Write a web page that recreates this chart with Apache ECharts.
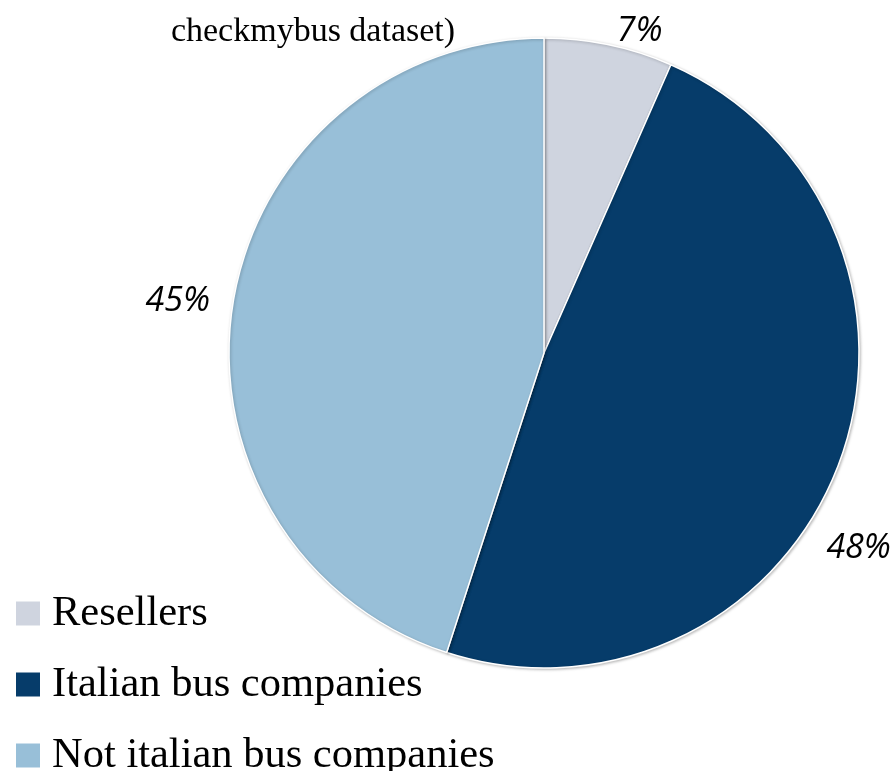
<!DOCTYPE html>
<html><head><meta charset="utf-8">
<script src="https://cdn.jsdelivr.net/npm/echarts@6/dist/echarts.min.js"></script>
<style>html,body{margin:0;padding:0;background:#fff}#c{width:893px;height:771px}</style>
</head><body><div id="c"></div>
<script>
const categories = ['Resellers', 'Italian bus companies', 'Not italian bus companies'];
const shares = [6.6, 48.4, 45.0];
const colors = ['#CFD4DF', '#063C6A', '#98BFD8'];
const titleText = 'checkmybus dataset)';

const chart = echarts.init(document.getElementById('c'));
chart.setOption({
  animation: false,
  title: {
    text: titleText, left: 313, top: 15, textAlign: 'center', padding: 0,
    textStyle: { fontFamily: 'Liberation Serif', fontWeight: 'normal', fontSize: 34, color: '#000' }
  },
  legend: {
    orient: 'vertical', left: 14, top: 592, padding: 0, height: 200,
    itemWidth: 26, itemHeight: 26, itemGap: 28, icon: 'rect',
    data: categories,
    textStyle: { fontFamily: 'Liberation Serif', fontSize: 42.5, color: '#000', lineHeight: 42, padding: [0, 0, 0, 6] }
  },
  series: [{
    type: 'pie', center: [544, 353], radius: 315,
    startAngle: 90, clockwise: true,
    itemStyle: { borderColor: '#fff', borderWidth: 1.5, shadowColor: 'rgba(0,0,0,0.25)', shadowBlur: 3, shadowOffsetX: 1, shadowOffsetY: 1 },
    label: {
      show: true, position: 'outside', overflow: 'none',
      formatter: p => Math.round(p.value) + '%',
      fontFamily: 'Open Sans', fontStyle: 'italic', fontSize: 34, color: '#000'
    },
    labelLine: { show: false, length: 14, length2: 0 },
    labelLayout: p => p.dataIndex === 1 ? { dx: -30, dy: 78 } : (p.dataIndex === 2 ? { dx: -4 } : {}),
    data: categories.map((n, i) => ({ name: n, value: shares[i], itemStyle: { color: colors[i] } }))
  }]
});
</script></body></html>
